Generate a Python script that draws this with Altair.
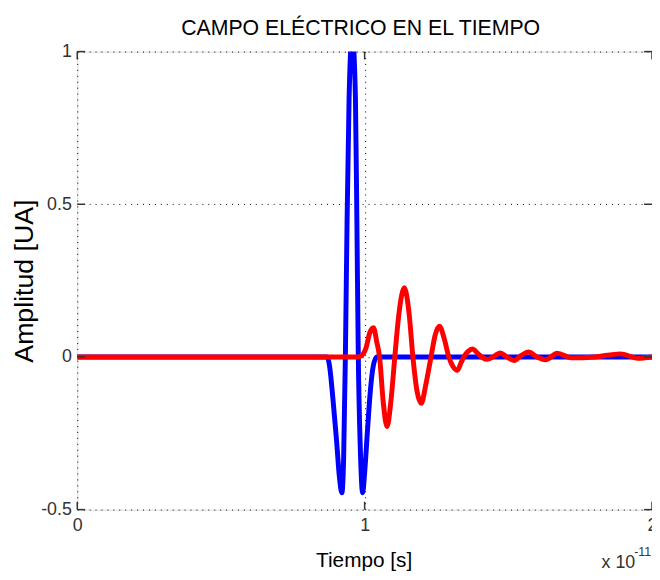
import altair as alt
import pandas as pd

# ---- data (x in units of 1e-11 s) ----
t_blue = [0.0, 0.870, 0.878, 0.890, 0.902, 0.913, 0.921, 0.927, 0.933, 0.939, 0.946,
          0.957, 0.968, 0.973, 0.978, 0.985, 0.993, 1.000, 1.010, 1.020, 1.030, 1.042, 2.0]
e_blue = [0.0, 0.0, -0.03, -0.14, -0.27, -0.40, -0.445, -0.33, 0.0, 0.45, 0.85,
          1.06, 0.85, 0.45, 0.0, -0.30, -0.445, -0.38, -0.24, -0.11, -0.03, 0.0, 0.0]

t_red = [0.0, 0.975, 0.990, 1.005, 1.018, 1.031, 1.042, 1.052, 1.065, 1.078, 1.092,
         1.105, 1.118, 1.138, 1.155, 1.168, 1.182, 1.197, 1.213, 1.231, 1.245, 1.260,
         1.277, 1.293, 1.308, 1.323, 1.335, 1.345, 1.360, 1.375, 1.395, 1.410, 1.427,
         1.455, 1.472, 1.495, 1.520, 1.545, 1.570, 1.600, 1.630, 1.670, 1.720, 1.800,
         1.890, 1.950, 2.0]
e_red = [0.0, 0.0, 0.005, 0.03, 0.08, 0.096, 0.05, 0.0, -0.15, -0.228, -0.14,
         0.0, 0.13, 0.227, 0.14, 0.0, -0.11, -0.152, -0.09, 0.0, 0.07, 0.101,
         0.06, 0.0, -0.032, -0.044, -0.02, 0.0, 0.018, 0.026, 0.01, -0.002, -0.008,
         0.005, 0.013, 0.0, -0.012, 0.005, 0.016, 0.0, -0.009, 0.012, -0.003, 0.0,
         0.01, -0.004, 0.0]

x_ticks = [0, 1, 2]
y_ticks = [-0.5, 0, 0.5, 1]

title_text = "CAMPO ELÉCTRICO EN EL TIEMPO"
x_title = "Tiempo [s]"
y_title = "Amplitud [UA]"
exp_base = "x 10"
exp_power = "-11"

W, H = 581, 463
SANS = '"Liberation Sans", Arial, sans-serif'

blue_df = pd.DataFrame({"t": t_blue, "e": e_blue})
red_df = pd.DataFrame({"t": t_red, "e": e_red})
xt_df = pd.DataFrame({"v": x_ticks})
yt_df = pd.DataFrame({"v": y_ticks})

xscale = alt.Scale(domain=[0, 2], nice=False, zero=False)
yscale = alt.Scale(domain=[-0.5, 1], nice=False, zero=False)

x_axis = alt.Axis(values=x_ticks, title=x_title, grid=True, gridColor="black",
                  gridDash=[1, 5], gridWidth=1, gridOpacity=1, ticks=False, domain=False,
                  labelFont=SANS, labelFontSize=18, labelColor="#333", labelPadding=7,
                  labelExpr="toString(datum.value)", labelFlush=False, labelOverlap=False,
                  titleFont=SANS, titleFontSize=21, titleFontWeight="normal",
                  titleColor="black", titleX=W / 2 - 1, titleY=58, titleBaseline="alphabetic",
                  titleAlign="center")
y_axis = alt.Axis(values=y_ticks, title=y_title, grid=True, gridColor="black",
                  gridDash=[1, 5], gridWidth=1, gridOpacity=1, ticks=False, domain=False,
                  labelFont=SANS, labelFontSize=18, labelColor="#333", labelPadding=6,
                  labelExpr="toString(datum.value)", labelFlush=False, labelOverlap=False,
                  titleFont=SANS, titleFontSize=27, titleFontWeight="normal",
                  titleColor="black", titleX=-53, titleY=H / 2, titleAngle=-90,
                  titleBaseline="middle", titleAlign="center")

base_blue = alt.Chart(blue_df).mark_line(color="#0000FF", strokeWidth=5, clip=True,
                                         interpolate="monotone").encode(
    x=alt.X("t:Q", scale=xscale, axis=x_axis),
    y=alt.Y("e:Q", scale=yscale, axis=y_axis),
)
red = alt.Chart(red_df).mark_line(color="#FF0000", strokeWidth=5, clip=True,
                                  interpolate="monotone").encode(
    x=alt.X("t:Q", scale=xscale),
    y=alt.Y("e:Q", scale=yscale),
)

tick_color = "#333"
bot_ticks = alt.Chart(xt_df).mark_rule(color=tick_color, strokeWidth=1.5).encode(
    x=alt.X("v:Q", scale=xscale), y=alt.value(H), y2=alt.value(H - 8))
top_ticks = alt.Chart(xt_df).mark_rule(color=tick_color, strokeWidth=1.5).encode(
    x=alt.X("v:Q", scale=xscale), y=alt.value(0), y2=alt.value(8))
left_ticks = alt.Chart(yt_df).mark_rule(color=tick_color, strokeWidth=1.5).encode(
    y=alt.Y("v:Q", scale=yscale), x=alt.value(0), x2=alt.value(8))
right_ticks = alt.Chart(yt_df).mark_rule(color=tick_color, strokeWidth=1.5).encode(
    y=alt.Y("v:Q", scale=yscale), x=alt.value(W), x2=alt.value(W - 8))

txt_df = pd.DataFrame({"title": [title_text], "base": [exp_base], "pw": [exp_power]})
title_mark = alt.Chart(txt_df).mark_text(font=SANS, fontSize=21.5, color="black",
                                         align="center", baseline="alphabetic").encode(
    text="title:N", x=alt.value(W / 2 - 4), y=alt.value(-16.5))
exp_main = alt.Chart(txt_df).mark_text(font=SANS, fontSize=18, color="#333",
                                       align="left", baseline="alphabetic").encode(
    text="base:N", x=alt.value(530), y=alt.value(H + 59))
exp_sup = alt.Chart(txt_df).mark_text(font=SANS, fontSize=12.5, color="#333",
                                      align="left", baseline="alphabetic").encode(
    text="pw:N", x=alt.value(563), y=alt.value(H + 47))

chart = alt.layer(base_blue, red, bot_ticks, top_ticks, left_ticks, right_ticks,
                  title_mark, exp_main, exp_sup).properties(
    width=W, height=H,
    autosize=alt.AutoSizeParams(type="none"),
    padding={"left": 70, "top": 41, "right": 0, "bottom": 60},
).configure_view(stroke="#444", strokeWidth=2).configure(background="white")

chart.save("out.html", embed_options={"renderer": "svg", "actions": False})
